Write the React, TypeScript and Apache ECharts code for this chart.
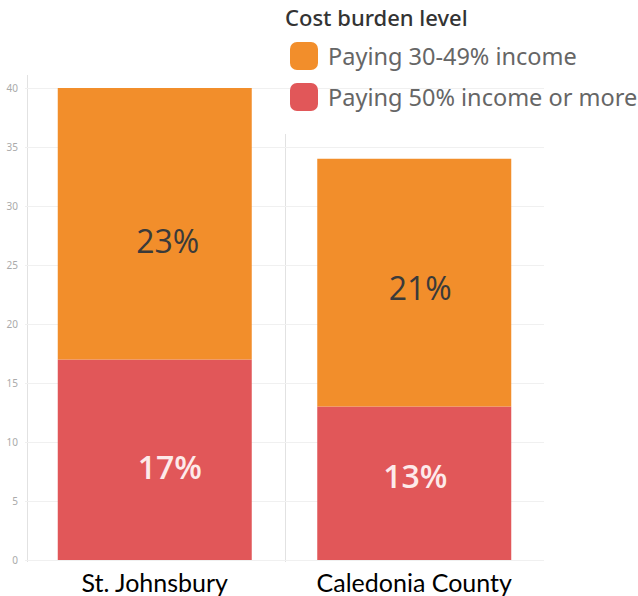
import React, { useEffect, useRef } from "react";
import * as echarts from "echarts";

const categories = ["St. Johnsbury", "Caledonia County"];
const seriesNames = ["Paying 30-49% income", "Paying 50% income or more"];
const paying30to49 = [23, 21];
const paying50plus = [17, 13];
const yTicks = { min: 0, max: 40, interval: 5 };

const ORANGE = "#F28E2B";
const RED = "#E15759";
// small nudges of the in-bar labels, as seen in the reference
const orangeNudge = [[13, 17], [6, 5]];
const redNudge = [[15, 7], [1, -8]];

export default function App() {
  const ref = useRef<HTMLDivElement>(null);
  useEffect(() => {
    if (!ref.current) return;
    const chart = echarts.init(ref.current, null, { renderer: "svg" });
    const labelBase = {
      show: true,
      position: "inside",
      fontFamily: "Open Sans",
      fontSize: 32,
      formatter: (p: any) => `${p.value}%`,
    };
    chart.setOption({
      animation: false,
      backgroundColor: "#fff",
      title: {
        text: "Cost burden level",
        left: 280,
        top: 1,
        textStyle: { fontFamily: "Noto Sans", fontSize: 22, fontWeight: 500, color: "#333" },
      },
      legend: {
        data: seriesNames,
        orient: "vertical",
        left: 285,
        top: 37,
        itemWidth: 28,
        itemHeight: 28,
        itemGap: 13,
        icon: "roundRect",
        textStyle: { fontFamily: "Noto Sans", fontSize: 23.5, color: "#666", padding: [0, 0, 0, 5] },
      },
      grid: { left: 25, right: 94, top: 88, bottom: 36 },
      xAxis: {
        type: "category",
        data: categories,
        axisLine: { show: false },
        axisTick: { show: false },
        axisLabel: { color: "#000", fontFamily: "Lato", fontSize: 25, margin: 9 },
      },
      yAxis: {
        type: "value",
        min: yTicks.min,
        max: yTicks.max,
        interval: yTicks.interval,
        axisLine: { show: false },
        axisTick: { show: false },
        axisLabel: { color: "#aaa", fontSize: 10, fontFamily: "Noto Sans", margin: 7 },
        splitLine: { lineStyle: { color: "#f0f0f0", width: 1 } },
      },
      graphic: [
        { type: "line", shape: { x1: 27.5, y1: 75, x2: 27.5, y2: 562 }, style: { stroke: "#e2e2e2", lineWidth: 1 } },
        { type: "line", shape: { x1: 285.5, y1: 134, x2: 285.5, y2: 562 }, style: { stroke: "#e2e2e2", lineWidth: 1 } },
      ],
      series: [
        {
          name: seriesNames[1],
          type: "bar",
          stack: "total",
          barWidth: 194,
          itemStyle: { color: RED },
          data: paying50plus.map((v, i) => ({ value: v, label: { offset: redNudge[i] } })),
          label: { ...labelBase, color: "#fdeaea", fontWeight: 600 },
        },
        {
          name: seriesNames[0],
          type: "bar",
          stack: "total",
          barWidth: 194,
          itemStyle: { color: ORANGE },
          data: paying30to49.map((v, i) => ({ value: v, label: { offset: orangeNudge[i] } })),
          label: { ...labelBase, color: "#3a3a3a", fontWeight: 400 },
        },
      ],
    });
    return () => chart.dispose();
  }, []);
  return <div ref={ref} style={{ width: 638, height: 596, position: "absolute", left: 0, top: 0 }} />;
}
